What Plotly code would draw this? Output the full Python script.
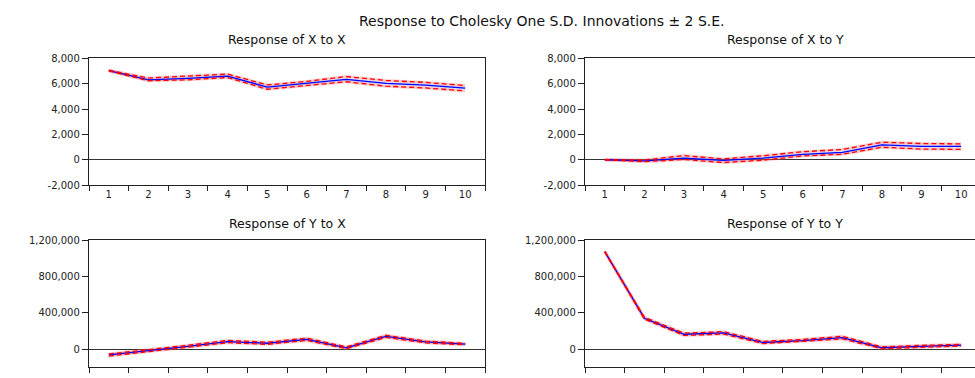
import plotly.graph_objects as go

periods = ["1", "2", "3", "4", "5", "6", "7", "8", "9", "10"]

# Response of X to X
xx_resp = [7030, 6300, 6420, 6600, 5720, 6000, 6330, 6030, 5880, 5650]
xx_up = [7060, 6440, 6600, 6750, 5900, 6180, 6560, 6250, 6100, 5850]
xx_lo = [7000, 6230, 6300, 6480, 5560, 5830, 6150, 5800, 5660, 5430]

# Response of X to Y
xy_resp = [0, -80, 120, -50, 130, 430, 580, 1180, 1060, 1050]
xy_up = [0, -20, 330, 60, 320, 630, 810, 1380, 1280, 1250]
xy_lo = [0, -150, 20, -220, -30, 300, 430, 990, 840, 820]

# Response of Y to X
yx_resp = [-65000, -20000, 30000, 82000, 64000, 107000, 14000, 140000, 78000, 54000]
yx_up = [-55000, -10000, 42000, 95000, 76000, 120000, 24000, 152000, 88000, 62000]
yx_lo = [-78000, -30000, 20000, 70000, 52000, 95000, 4000, 128000, 68000, 46000]

# Response of Y to Y
yy_resp = [1075000, 340000, 163000, 178000, 72000, 93000, 125000, 14000, 30000, 43000]
yy_up = [1075000, 350000, 175000, 192000, 84000, 106000, 140000, 24000, 40000, 52000]
yy_lo = [1075000, 330000, 150000, 165000, 60000, 82000, 112000, 4000, 20000, 34000]

top_vals = [-2000, 0, 2000, 4000, 6000, 8000]
top_text = ["-2,000", "0", "2,000", "4,000", "6,000", "8,000"]
bot_vals = [0, 400000, 800000, 1200000]
bot_text = ["0", "400,000", "800,000", "1,200,000"]

panels = [
    ("x", "y", xx_resp, xx_up, xx_lo),
    ("x2", "y2", xy_resp, xy_up, xy_lo),
    ("x3", "y3", yx_resp, yx_up, yx_lo),
    ("x4", "y4", yy_resp, yy_up, yy_lo),
]

fig = go.Figure()
for xa, ya, resp, up, lo in panels:
    # soft halos
    fig.add_trace(go.Scatter(x=periods, y=resp, xaxis=xa, yaxis=ya, mode="lines",
                             line=dict(color="rgba(120,140,255,0.3)", width=3),
                             showlegend=False, hoverinfo="skip"))
    for band in (up, lo):
        fig.add_trace(go.Scatter(x=periods, y=band, xaxis=xa, yaxis=ya, mode="lines",
                                 line=dict(color="rgba(255,90,90,0.3)", width=3),
                                 showlegend=False, hoverinfo="skip"))
    fig.add_trace(go.Scatter(x=periods, y=resp, xaxis=xa, yaxis=ya, mode="lines",
                             line=dict(color="#0000FF", width=1.3),
                             showlegend=False))
    for band in (up, lo):
        fig.add_trace(go.Scatter(x=periods, y=band, xaxis=xa, yaxis=ya, mode="lines",
                                 line=dict(color="#FF0000", width=1.3, dash="5px,3px"),
                                 showlegend=False))

W, H = 975, 378
tickfont = dict(family="DejaVu Sans", size=10, color="#222")

def xax(l, r, anchor, rng, labels=True):
    return dict(domain=[l / W, r / W], anchor=anchor, type="category",
                tickson="boundaries", ticks="outside", ticklen=5, tickcolor="#222",
                range=rng, showline=True, mirror=True, linecolor="#222", linewidth=1.3,
                showgrid=False, zeroline=False, tickfont=tickfont,
                showticklabels=labels)

def yax(top, bot, anchor, rng, vals, texts, mirror=True):
    return dict(domain=[1 - bot / H, 1 - top / H], anchor=anchor, range=rng,
                tickmode="array", tickvals=vals, ticktext=texts,
                ticks="outside", ticklen=6, tickcolor="#222",
                showline=True, mirror=mirror, linecolor="#222", linewidth=1.3,
                showgrid=False, zeroline=True, zerolinecolor="#333", zerolinewidth=1,
                tickfont=tickfont)

fig.update_layout(
    width=W, height=H,
    margin=dict(l=0, r=0, t=0, b=0),
    paper_bgcolor="white", plot_bgcolor="white",
    xaxis=xax(89, 485, "y", [-0.5, 9.5]),
    xaxis2=xax(585, W, "y2", [-0.5, 9.35]),
    xaxis3=xax(89, 485, "y3", [-0.5, 9.5], labels=False),
    xaxis4=xax(585, W, "y4", [-0.5, 9.35], labels=False),
    yaxis=yax(54, 185, "x", [-2000, 8000], top_vals, top_text),
    yaxis2=yax(54, 185, "x2", [-2000, 8000], top_vals, top_text, mirror=False),
    yaxis3=yax(242, 373, "x3", [-200000, 1200000], bot_vals, bot_text),
    yaxis4=yax(242, 373, "x4", [-200000, 1200000], bot_vals, bot_text, mirror=False),
    showlegend=False,
)

titles = [
    ("Response to Cholesky One S.D. Innovations \u00b1 2 S.E.", 542, 15, 14),
    ("Response of X to X", 287, 35, 12.5),
    ("Response of X to Y", 785, 35, 12.5),
    ("Response of Y to X", 287, 225, 12.5),
    ("Response of Y to Y", 785, 225, 12.5),
]
for text, cx, cy, size in titles:
    fig.add_annotation(text=text, x=cx / W, y=1 - cy / H, xref="paper", yref="paper",
                       showarrow=False, xanchor="center", yanchor="middle",
                       font=dict(family="DejaVu Sans", size=size, color="#111"))

fig.write_html("out.html", config={"displayModeBar": False},
               post_script="document.body.style.margin='0';document.body.style.overflow='hidden';")
